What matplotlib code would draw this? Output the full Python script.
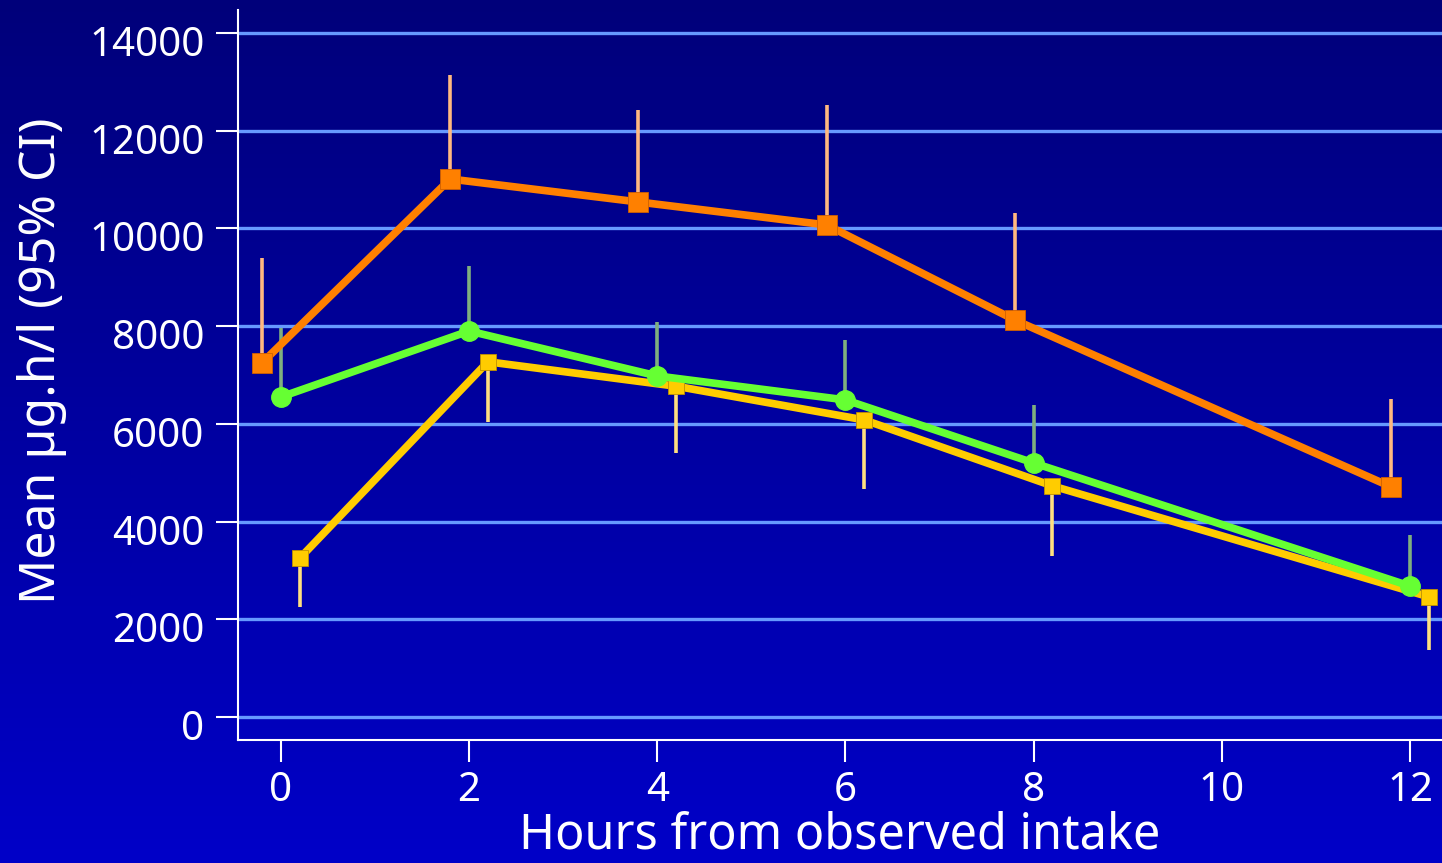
import numpy as np
import matplotlib
matplotlib.use("Agg")
import matplotlib.pyplot as plt
import matplotlib.transforms as mtransforms

plt.rcParams['font.family'] = ['Noto Sans', 'DejaVu Sans']

hours = [0, 2, 4, 6, 8, 12]

orange_mean = [7250, 11010, 10540, 10070, 8125, 4710]
orange_upper = [9400, 13140, 12420, 12520, 10310, 6510]

green_mean = [6550, 7900, 6980, 6490, 5200, 2680]
green_upper = [7960, 9230, 8080, 7720, 6390, 3720]

yellow_mean = [3250, 7270, 6770, 6080, 4730, 2460]
yellow_lower = [2250, 6040, 5400, 4670, 3300, 1370]

y_ticks = [0, 2000, 4000, 6000, 8000, 10000, 12000, 14000]
x_ticks = [0, 2, 4, 6, 8, 10, 12]

fig = plt.figure(figsize=(14.42, 8.63), dpi=100)

# gradient background
bg = fig.add_axes([0, 0, 1, 1], zorder=-10)
grad = np.linspace(0, 1, 256).reshape(-1, 1)
cmap = matplotlib.colors.LinearSegmentedColormap.from_list('bg', ['#00007A', '#0000C8'])
bg.imshow(grad, aspect='auto', cmap=cmap, extent=[0, 1, 0, 1], origin='upper')
bg.axis('off')

ax = fig.add_axes([0.165, 0.1425, 0.835, 0.846])
ax.patch.set_alpha(0)

x = np.array(hours, dtype=float)
xo = x - 0.2
xy = x + 0.2

# error bars (one-sided)
ax.vlines(xo, orange_mean, orange_upper, color='#FFB880', lw=2.6, zorder=2)
ax.vlines(x, green_mean, green_upper, color='#7FAF7F', lw=2.6, zorder=2)
ax.vlines(xy, yellow_lower, yellow_mean, color='#FFE080', lw=2.6, zorder=2)

ax.plot(xy, yellow_mean, color='#FFCC00', lw=5.5, marker='s', ms=11,
        mec='#C09000', mew=0.6, zorder=3)
ax.plot(x, green_mean, color='#66FF33', lw=5.5, marker='o', ms=14,
        mec='#66FF33', zorder=4)
ax.plot(xo, orange_mean, color='#FF8000', lw=5.5, marker='s', ms=14.5,
        mec='#D06000', mew=0.6, zorder=5)

ax.set_xlim(-0.457, 12.34)
ax.set_ylim(-470, 14470)
ax.set_yticks(y_ticks)
ax.set_xticks(x_ticks)
ax.grid(axis='y', color='#6699FF', lw=2.4, zorder=1)
ax.set_axisbelow(True)

for s in ['top', 'right']:
    ax.spines[s].set_visible(False)
for s in ['left', 'bottom']:
    ax.spines[s].set_color('white')
    ax.spines[s].set_linewidth(1.5)

ax.tick_params(colors='white', labelsize=29, length=16, width=1.5)
ax.tick_params(axis='y', pad=8)
ax.tick_params(axis='x', pad=6)

# y tick labels sit a little below their gridlines in the original
shift = mtransforms.ScaledTranslation(0, -8 / 100, fig.dpi_scale_trans)
for lab in ax.get_yticklabels():
    lab.set_transform(lab.get_transform() + shift)

ax.set_ylabel('Mean µg.h/l (95% CI)', color='white', fontsize=36)
ax.yaxis.set_label_coords(-0.142, 0.52)
ax.set_xlabel('Hours from observed intake', color='white', fontsize=35)
ax.xaxis.set_label_coords(0.5, -0.097)

fig.savefig('out.png', dpi=100)
